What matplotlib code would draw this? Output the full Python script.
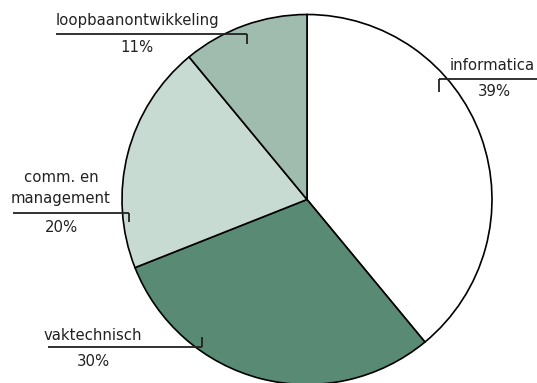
import matplotlib.pyplot as plt

# share of course participants per field
labels = ["informatica", "vaktechnisch", "comm. en\nmanagement", "loopbaanontwikkeling"]
values = [39, 30, 20, 11]
colors = ["#ffffff", "#588a74", "#c8dbd3", "#a0bcae"]

W, H = 537, 383


def Y(y):
    # work in pixel rows from the top
    return H - y


fig = plt.figure(figsize=(W / 100, H / 100), dpi=100)
ax = fig.add_axes([0, 0, 1, 1])

ax.pie(values, colors=colors, startangle=90, counterclock=False,
       center=(307, Y(199.5)), radius=185,
       wedgeprops=dict(edgecolor="black", linewidth=1.2))
ax.set_xlim(0, W)
ax.set_ylim(0, H)
ax.set_aspect("equal")
ax.axis("off")

txt = dict(fontsize=10.7, color="#222222", ha="center", va="center",
           family="DejaVu Sans")
line = dict(color="#222222", lw=1.3, solid_capstyle="butt", zorder=5)

# label position, percent position, leader line (x0, x1, y, tick end y)
layout = [
    ((492, 65), (494, 92), (439, 537, 79, 92)),
    ((93, 336), (93, 362), (48, 202, 347, 337)),
    ((61, 188), (61, 227), (13, 129, 213, 222)),
    ((137, 21), (137, 47), (56, 247, 34, 44)),
]

for lab, val, (tp, pp, ln) in zip(labels, values, layout):
    if "\n" in lab:
        ax.text(tp[0], Y(tp[1]), lab, linespacing=1.45, **txt)
    else:
        ax.text(tp[0], Y(tp[1]), lab, **txt)
    ax.text(pp[0], Y(pp[1]), f"{val}%", **txt)
    x0, x1, yl, yt = ln
    tick_x = x0 if x0 > 300 else x1
    ax.plot([x0, x1], [Y(yl), Y(yl)], **line)
    ax.plot([tick_x, tick_x], [Y(yl), Y(yt)], **line)

fig.savefig("out.png", dpi=100)
